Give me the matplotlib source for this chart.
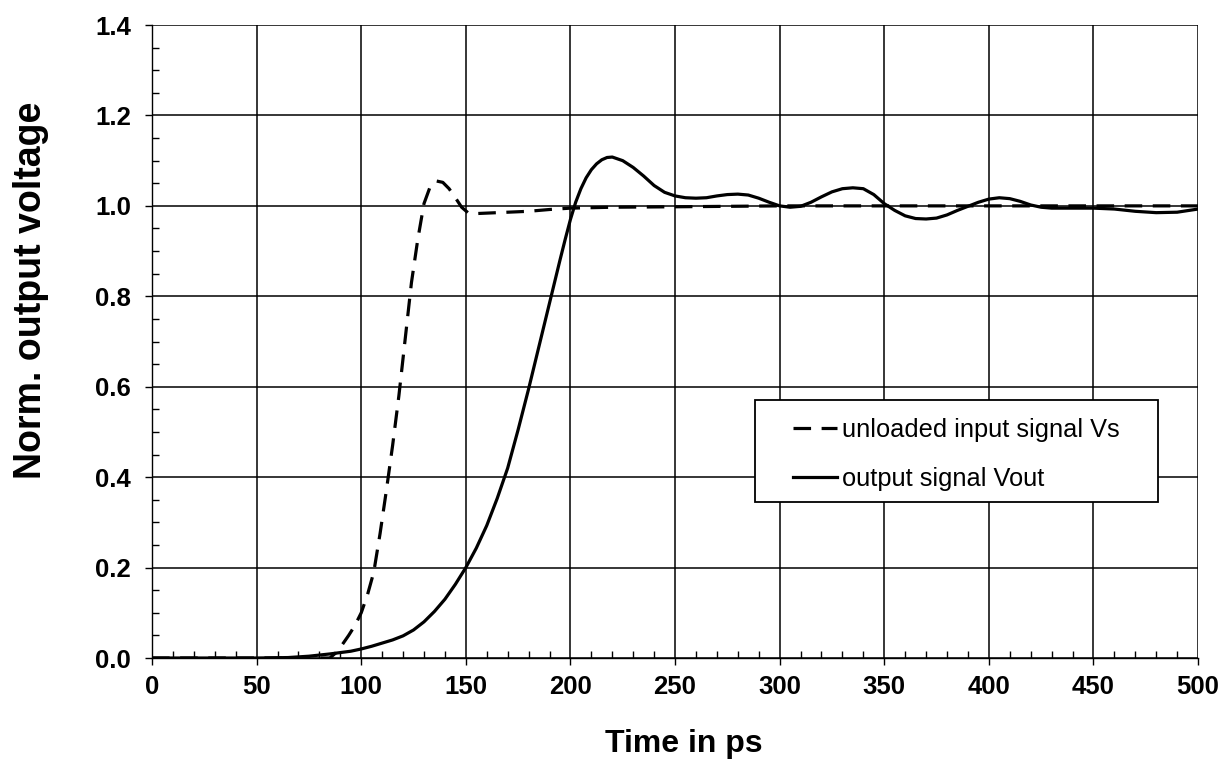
import numpy as np
import matplotlib
matplotlib.use("Agg")
import matplotlib.pyplot as plt
from matplotlib.ticker import MultipleLocator
from matplotlib.patches import Rectangle

# unloaded input signal Vs (dashed)
t_vs = [0, 50, 85, 88, 91, 94, 97, 100, 103, 106, 109, 112, 115, 118, 121,
        124, 127, 130, 133, 136, 139, 142, 145, 148, 151, 155, 160, 170,
        180, 190, 200, 220, 250, 300, 400, 500]
v_vs = [0, 0, 0.0, 0.012, 0.03, 0.05, 0.072, 0.10, 0.14, 0.19, 0.275, 0.37,
        0.47, 0.58, 0.705, 0.83, 0.925, 1.005, 1.043, 1.055, 1.052, 1.038,
        1.018, 0.997, 0.985, 0.983, 0.984, 0.986, 0.988, 0.992, 0.995,
        0.997, 0.998, 1.0, 1.0, 1.0]

# output signal Vout (solid)
t_out = [0, 50, 65, 75, 85, 95, 100, 105, 110, 115, 120, 125, 130, 135, 140,
         145, 150, 155, 160, 165, 170, 175, 180, 185, 190, 195, 197.5, 200,
         202.5, 205, 207.5, 210, 212.5, 215, 217.5, 220, 225, 230, 235, 240,
         245, 250, 255, 260, 265, 270, 275, 280, 285, 290, 295, 300, 305,
         310, 315, 320, 325, 330, 335, 340, 345, 350, 355, 360, 365, 370,
         375, 380, 385, 390, 395, 400, 405, 410, 415, 420, 425, 430, 440,
         450, 460, 470, 480, 490, 500]
v_out = [0, 0, 0.001, 0.004, 0.009, 0.015, 0.02, 0.026, 0.033, 0.040, 0.049,
         0.062, 0.08, 0.103, 0.13, 0.163, 0.2, 0.243, 0.293, 0.353, 0.42,
         0.505, 0.595, 0.69, 0.785, 0.88, 0.926, 0.97, 1.008, 1.038, 1.062,
         1.08, 1.093, 1.102, 1.107, 1.108, 1.10, 1.085, 1.066, 1.045, 1.03,
         1.022, 1.018, 1.017, 1.018, 1.022, 1.025, 1.026, 1.024, 1.017, 1.008,
         1.0, 0.997, 0.999, 1.008, 1.02, 1.031, 1.038, 1.04, 1.038, 1.025,
         1.005, 0.99, 0.978, 0.972, 0.971, 0.973, 0.98, 0.99, 0.999, 1.008,
         1.015, 1.018, 1.016, 1.01, 1.002, 0.997, 0.995, 0.995, 0.995, 0.993,
         0.988, 0.985, 0.986, 0.993]

x_ticks = np.arange(0, 501, 50)
y_ticks = np.arange(0, 1.41, 0.2)

plt.rcParams['font.family'] = ['Liberation Sans', 'DejaVu Sans']

fig = plt.figure(figsize=(12.23, 7.63), dpi=100)
ax = fig.add_axes([0.1243, 0.1376, 0.8553, 0.8296])

ax.plot(t_vs, v_vs, color='black', lw=2.3, linestyle=(0, (5.5, 3.3)),
        label='unloaded input signal Vs', zorder=3)
ax.plot(t_out, v_out, color='black', lw=2.3, label='output signal Vout', zorder=3)

ax.set_xlim(0, 500)
ax.set_ylim(0, 1.4)
ax.set_xticks(x_ticks)
ax.set_yticks(y_ticks)
ax.set_yticklabels([f'{v:.1f}' for v in y_ticks])
ax.xaxis.set_minor_locator(MultipleLocator(10))
ax.yaxis.set_minor_locator(MultipleLocator(0.05))

ax.grid(True, which='major', color='black', lw=1.1)
ax.tick_params(which='major', direction='out', length=5, width=1,
               labelsize=18.5)
ax.tick_params(axis='y', which='major', pad=10)
ax.tick_params(axis='x', which='major', pad=7)
ax.tick_params(which='minor', direction='in', length=5, width=1)
for lab in ax.get_xticklabels() + ax.get_yticklabels():
    lab.set_fontweight('bold')
for sp in ax.spines.values():
    sp.set_color('black')
    sp.set_linewidth(1.0)
ax.spines['top'].set_visible(False)
ax.spines['right'].set_visible(False)

ax.set_xlabel('Time in ps', fontsize=23, fontweight='bold')
ax.xaxis.set_label_coords(0.508, -0.112)
ax.set_ylabel('Norm. output voltage', fontsize=27, fontweight='bold')
ax.yaxis.set_label_coords(-0.0985, 0.581)

# legend frame (box in the reference is wider than its entries)
box = Rectangle((0.5765, 0.2464), 0.385, 0.161, transform=ax.transAxes,
                facecolor='white', edgecolor='black', lw=1.3, zorder=4)
ax.add_patch(box)
leg = ax.legend(loc='center', bbox_to_anchor=(0.5765 + 0.385 / 2, 0.2464 + 0.161 / 2 - 0.005),
                fontsize=18.3, handlelength=1.7, handletextpad=0.2,
                labelspacing=1.0, borderpad=0.0, frameon=False)
leg.set_zorder(5)

fig.savefig('out.png', dpi=100)
